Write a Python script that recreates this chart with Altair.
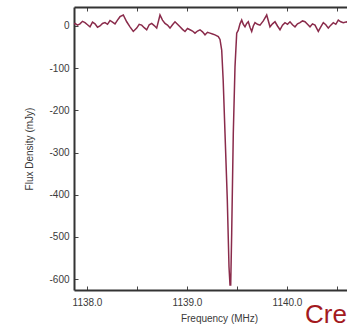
import altair as alt
import pandas as pd

freq = [1137.87, 1137.88, 1137.905, 1137.93, 1137.955, 1137.98, 1138.005, 1138.03, 1138.055, 1138.08,
        1138.105, 1138.13, 1138.155, 1138.18, 1138.205, 1138.23, 1138.255, 1138.28, 1138.305, 1138.33,
        1138.363, 1138.397, 1138.43, 1138.463, 1138.497, 1138.522, 1138.547, 1138.572, 1138.597, 1138.622,
        1138.647, 1138.672, 1138.697, 1138.73, 1138.755, 1138.78, 1138.805, 1138.83, 1138.855, 1138.88,
        1138.905, 1138.93, 1138.955, 1138.98, 1139.005, 1139.03, 1139.055, 1139.08, 1139.105, 1139.13,
        1139.155, 1139.18, 1139.205, 1139.23, 1139.255, 1139.28, 1139.313, 1139.33, 1139.347, 1139.362,
        1139.38, 1139.403, 1139.42, 1139.43, 1139.437, 1139.447, 1139.463, 1139.48, 1139.497, 1139.513,
        1139.53, 1139.547, 1139.563, 1139.58, 1139.597, 1139.613, 1139.63, 1139.647, 1139.663, 1139.68,
        1139.705, 1139.73, 1139.763, 1139.797, 1139.83, 1139.855, 1139.88, 1139.905, 1139.93, 1139.955,
        1139.98, 1140.005, 1140.03, 1140.055, 1140.08, 1140.105, 1140.13, 1140.155, 1140.18, 1140.205,
        1140.23, 1140.255, 1140.28, 1140.313, 1140.338, 1140.363, 1140.388, 1140.413, 1140.438, 1140.463,
        1140.488, 1140.513, 1140.538, 1140.563, 1140.597, 1140.63, 1140.66, 1140.69, 1140.72, 1140.75]
flux = [4, 6, 2, 5, 11, 8, 3, -2, 9, 5,
        -3, 0, 6, 8, 4, 13, 9, 5, 14, 22,
        26, 10, -2, -13, -5, 4, 2, -4, -9, 3,
        6, 1, -5, 26, 14, 6, 2, -5, 3, 10,
        4, -2, -8, -13, -6, -9, -12, -17, -12, -9,
        -14, -21, -15, -17, -19, -21, -25, -32, -57, -130,
        -254, -412, -571, -614, -614, -490, -254, -97, -17, -10,
        5, 14, 4, -2, 6, 10, -3, -13, 0, 8,
        4, 2, 12, 26, -2, 5, 10, 0, -9, 2,
        8, 4, 10, 3, -2, 5, 8, 12, 10, 4,
        -2, 5, 2, -13, -2, 8, 3, -5, 2, 8,
        4, 14, 10, 8, 10, 2, 9, 5, 12, 6]

x_label_vals = [1138.0, 1139.0, 1140.0]
x_tick_vals = [1138.0, 1138.5, 1139.0, 1139.5, 1140.0, 1140.5]
y_tick_vals = [0, -100, -200, -300, -400, -500, -600]
credit_text = ["Credit: NRAO/AUI/NSF"]

df = pd.DataFrame({"freq": freq, "flux": flux})

W, H = 273, 283
FONT = "Liberation Sans"
TXT = "#3a3a3a"
LINE = "#8a2b4b"
FRAME = "#333333"

xs = alt.Scale(domain=[1137.87, 1140.60], nice=False, zero=False)
ys = alt.Scale(domain=[-626, 45], nice=False, zero=False)

base = alt.Chart(df)

main = base.mark_line(color=LINE, strokeWidth=1.5, clip=True).encode(
    x=alt.X("freq:Q", scale=xs, axis=alt.Axis(
        orient="bottom", values=x_label_vals, format=".1f", ticks=False, domain=False, grid=False,
        labelPadding=7, labelFont=FONT, labelFontSize=10, labelColor=TXT,
        title="Frequency (MHz)", titleFont=FONT, titleFontSize=10, titleFontWeight="normal",
        titleColor=TXT, titlePadding=6, titleX=145)),
    y=alt.Y("flux:Q", scale=ys, axis=alt.Axis(
        orient="left", values=y_tick_vals, labelExpr="'' + datum.value", ticks=False, domain=False,
        grid=False, labelPadding=5, labelFont=FONT, labelFontSize=10, labelColor=TXT,
        title="Flux Density (mJy)", titleFont=FONT, titleFontSize=10, titleFontWeight="normal",
        titleColor=TXT, titlePadding=14)),
)

tick_axis = dict(labels=False, grid=False, tickSize=4, tickColor="#444",
                 tickWidth=1, title="", domainColor=FRAME, domainWidth=2)

# ticks pointing up from the bottom edge, and right from the left edge (with frame lines)
ticks_a = base.mark_line(opacity=0).encode(
    x=alt.X("freq:Q", scale=xs, axis=alt.Axis(orient="top", offset=-H, values=x_tick_vals,
                                               domain=True, **tick_axis)),
    y=alt.Y("flux:Q", scale=ys, axis=alt.Axis(orient="right", offset=-W, values=y_tick_vals,
                                               domain=True, **tick_axis)),
)
# ticks pointing down from the top edge (with frame line); nothing on the cropped right edge
ticks_b = base.mark_line(opacity=0).encode(
    x=alt.X("freq:Q", scale=xs, axis=alt.Axis(orient="bottom", offset=-H, values=x_tick_vals,
                                               domain=True, **tick_axis)),
    y=alt.Y("flux:Q", scale=ys, axis=alt.Axis(orient="left", offset=-W, values=y_tick_vals,
                                               labels=False, ticks=False, domain=False, grid=False,
                                               title="")),
)

credit = alt.Chart(pd.DataFrame({"t": credit_text})).mark_text(
    align="left", baseline="alphabetic", font=FONT, fontSize=26, color="#a31a1e"
).encode(text="t:N", x=alt.value(231), y=alt.value(316))

chart = alt.layer(main, ticks_a, ticks_b, credit).resolve_axis(
    x="independent", y="independent"
).properties(
    width=W, height=H,
    autosize=alt.AutoSizeParams(type="none"),
    padding={"left": 74, "top": 7, "right": 0, "bottom": 36},
    background="white",
).configure_view(strokeWidth=0)

chart.save("out.html", embed_options={"renderer": "svg", "actions": False})
